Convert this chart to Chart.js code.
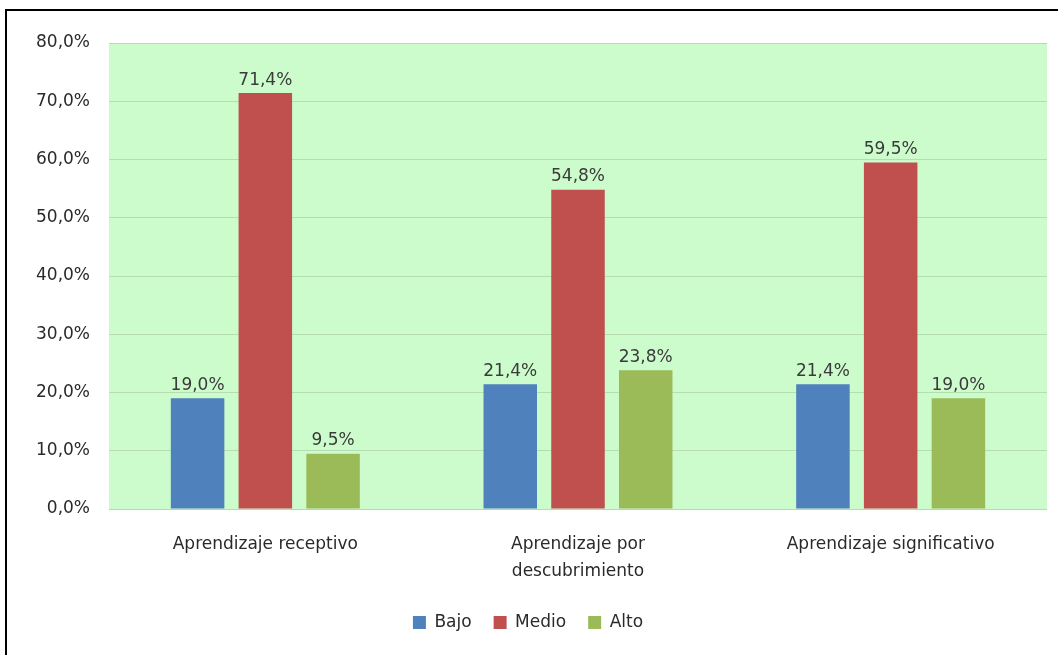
<!DOCTYPE html>
<html>
<head>
<meta charset="utf-8">
<script src="https://cdn.jsdelivr.net/npm/chart.js@4"></script>
<style>
  html, body { margin: 0; padding: 0; background: #fff; overflow: hidden; }
  #frame { position: absolute; left: 5px; top: 9px; width: 1060px; height: 652px; border: 2px solid #000; box-sizing: border-box; }
  #wrap { position: absolute; left: 2px; top: 2px; width: 1051px; height: 644px; }
</style>
</head>
<body>
<div id="frame"><div id="wrap"><canvas id="c"></canvas></div></div>
<script>
const categories = ["Aprendizaje receptivo", ["Aprendizaje por", "descubrimiento"], "Aprendizaje significativo"];
const seriesNames = ["Bajo", "Medio", "Alto"];
const bajo = [19.0, 21.4, 21.4];
const medio = [71.4, 54.8, 59.5];
const alto = [9.5, 23.8, 19.0];
const yTicks = [0, 10, 20, 30, 40, 50, 60, 70, 80];
const colors = ["#4F81BD", "#C0504D", "#9BBB59"];

const fmt = v => v.toFixed(1).replace('.', ',') + '%';
const FONT = '"DejaVu Sans", "Liberation Sans", sans-serif';

const plotBg = {
  id: 'plotBg',
  beforeDraw(chart) {
    const {ctx, chartArea: a} = chart;
    ctx.save();
    ctx.fillStyle = '#CCFCCC';
    ctx.fillRect(a.left, a.top, a.right - a.left, a.bottom - a.top);
    ctx.restore();
  }
};
const valueLabels = {
  id: 'valueLabels',
  afterDatasetsDraw(chart) {
    const {ctx} = chart;
    ctx.save();
    ctx.font = '17px ' + FONT;
    ctx.fillStyle = '#3a3a3a';
    ctx.textAlign = 'center';
    ctx.textBaseline = 'middle';
    chart.data.datasets.forEach((ds, i) => {
      chart.getDatasetMeta(i).data.forEach((bar, j) => {
        ctx.fillText(fmt(ds.data[j]), bar.x, bar.y - 13);
      });
    });
    ctx.restore();
  }
};

new Chart(document.getElementById('c'), {
  type: 'bar',
  data: {
    labels: categories,
    datasets: [
      { label: seriesNames[0], data: bajo, backgroundColor: colors[0] },
      { label: seriesNames[1], data: medio, backgroundColor: colors[1] },
      { label: seriesNames[2], data: alto, backgroundColor: colors[2] }
    ]
  },
  options: {
    responsive: true,
    maintainAspectRatio: false,
    animation: false,
    devicePixelRatio: 1,
    layout: { padding: { top: 30, right: 13, left: 0, bottom: 16 } },
    datasets: { bar: { categoryPercentage: 0.65, barPercentage: 0.79 } },
    scales: {
      x: {
        grid: { display: false },
        border: { display: false },
        ticks: { font: { family: FONT, size: 17, lineHeight: 1.6 }, color: '#2a2a2a', padding: 14, maxRotation: 0 },
        afterFit(s) { s.height = 83; }
      },
      y: {
        min: 0, max: 80,
        afterBuildTicks(s) { s.ticks = yTicks.map(v => ({ value: v })); },
        grid: { color: '#B5DDB0', lineWidth: 1, drawTicks: false },
        border: { display: false },
        ticks: { font: { family: FONT, size: 17 }, color: '#2a2a2a', padding: 19, callback: v => fmt(v) },
        afterFit(s) { s.width = 100; }
      }
    },
    plugins: {
      legend: {
        position: 'bottom',
        labels: { font: { family: FONT, size: 17 }, color: '#2a2a2a', boxWidth: 13, boxHeight: 13, padding: 22 }
      },
      tooltip: { enabled: false }
    }
  },
  plugins: [plotBg, valueLabels]
});
</script>
</body>
</html>
